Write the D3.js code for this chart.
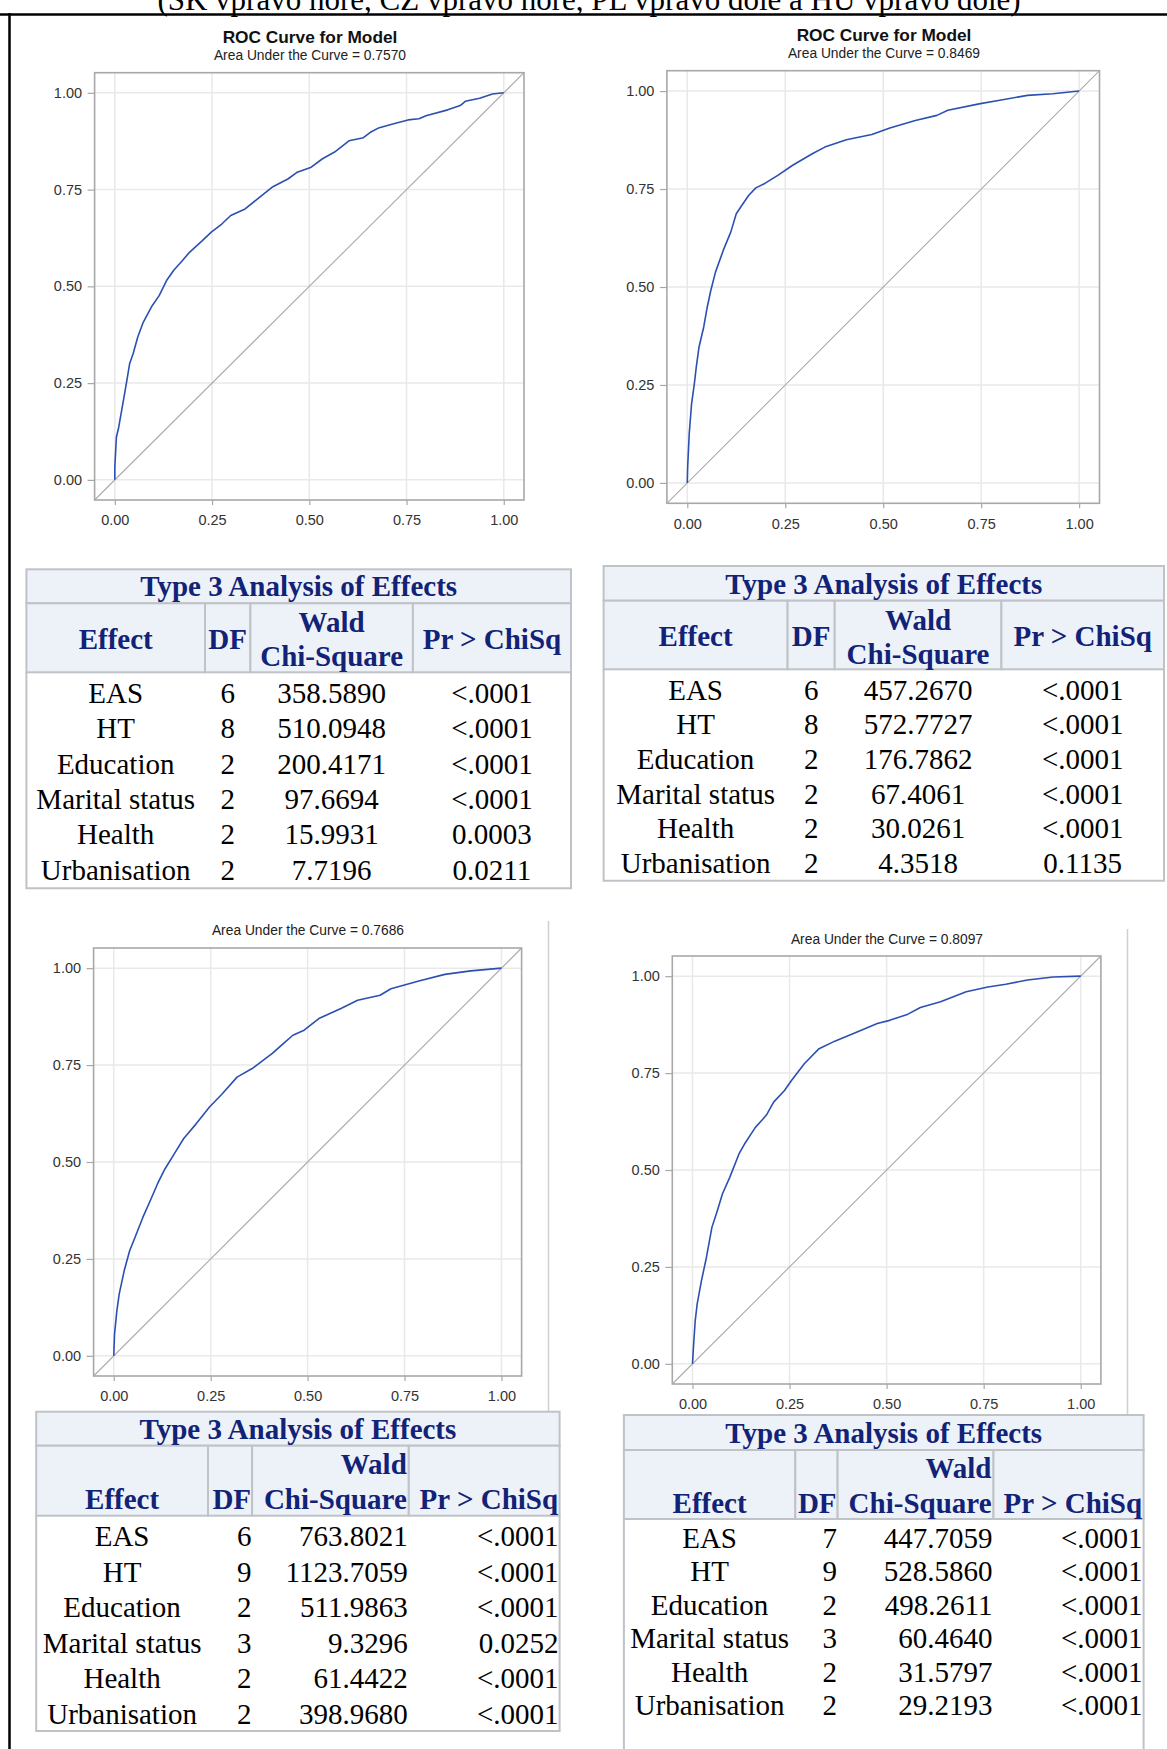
<!DOCTYPE html>
<html><head><meta charset="utf-8">
<script src="https://cdn.jsdelivr.net/npm/d3@7"></script>
<style>body{margin:0;background:#fff}svg{display:block}</style>
</head><body><svg id="c" width="1167" height="1749"></svg>
<script>
// ---------- data ----------
const caption = "(SK vpravo hore, CZ vpravo hore, PL vpravo dole a HU vpravo dole)";
const axisTicks = [0, 0.25, 0.5, 0.75, 1];
const plotTitles = ["ROC Curve for Model", "ROC Curve for Model", null, null];
const aucValues = [0.7570, 0.8469, 0.7686, 0.8097];

const rocSK = [[0,0],[0,0.033],[0.004,0.11],[0.010,0.136],[0.022,0.205],[0.031,0.257],[0.038,0.30],[0.047,0.326],[0.059,0.369],[0.073,0.407],[0.096,0.45],[0.114,0.476],[0.133,0.515],[0.151,0.541],[0.174,0.567],[0.192,0.588],[0.225,0.618],[0.248,0.64],[0.275,0.661],[0.298,0.683],[0.335,0.70],[0.367,0.726],[0.404,0.756],[0.446,0.778],[0.469,0.795],[0.505,0.808],[0.533,0.829],[0.565,0.847],[0.602,0.876],[0.639,0.884],[0.657,0.898],[0.680,0.91],[0.717,0.92],[0.754,0.93],[0.782,0.933],[0.800,0.941],[0.856,0.956],[0.888,0.967],[0.901,0.978],[0.938,0.986],[0.971,0.997],[1,1]];
const rocCZ = [[0,0],[0.001,0.041],[0.005,0.126],[0.011,0.202],[0.018,0.253],[0.023,0.296],[0.030,0.347],[0.042,0.398],[0.051,0.449],[0.060,0.491],[0.072,0.538],[0.092,0.594],[0.111,0.640],[0.125,0.687],[0.139,0.708],[0.157,0.734],[0.175,0.753],[0.199,0.765],[0.231,0.785],[0.268,0.810],[0.319,0.840],[0.351,0.857],[0.406,0.876],[0.471,0.889],[0.517,0.906],[0.582,0.925],[0.637,0.938],[0.665,0.951],[0.748,0.968],[0.794,0.976],[0.868,0.989],[0.933,0.993],[1,1]];
const rocPL = [[0,0],[0.002,0.056],[0.008,0.116],[0.014,0.159],[0.027,0.22],[0.041,0.271],[0.055,0.306],[0.075,0.357],[0.094,0.40],[0.113,0.444],[0.132,0.482],[0.156,0.521],[0.180,0.56],[0.213,0.599],[0.247,0.642],[0.280,0.676],[0.318,0.719],[0.357,0.741],[0.409,0.780],[0.438,0.806],[0.462,0.827],[0.491,0.840],[0.529,0.870],[0.586,0.896],[0.629,0.917],[0.687,0.930],[0.715,0.947],[0.787,0.967],[0.854,0.984],[0.921,0.993],[1,1]];
const rocHU = [[0,0],[0.003,0.051],[0.007,0.111],[0.012,0.154],[0.023,0.214],[0.036,0.275],[0.050,0.352],[0.064,0.395],[0.077,0.438],[0.096,0.481],[0.120,0.542],[0.134,0.567],[0.162,0.610],[0.190,0.641],[0.209,0.675],[0.237,0.705],[0.255,0.731],[0.288,0.774],[0.326,0.813],[0.368,0.833],[0.424,0.856],[0.476,0.878],[0.508,0.886],[0.555,0.902],[0.587,0.919],[0.639,0.934],[0.705,0.960],[0.761,0.972],[0.807,0.979],[0.863,0.990],[0.929,0.998],[1,1]];

const tableTitle = "Type 3 Analysis of Effects";
const headerLabels = ["Effect", "DF", "Wald", "Chi-Square", "Pr > ChiSq"];
const effects = ["EAS", "HT", "Education", "Marital status", "Health", "Urbanisation"];
const dfSK = [6, 8, 2, 2, 2, 2];
const waldSK = [358.5890, 510.0948, 200.4171, 97.6694, 15.9931, 7.7196];
const pSK = ["<.0001", "<.0001", "<.0001", "<.0001", "0.0003", "0.0211"];
const dfCZ = [6, 8, 2, 2, 2, 2];
const waldCZ = [457.2670, 572.7727, 176.7862, 67.4061, 30.0261, 4.3518];
const pCZ = ["<.0001", "<.0001", "<.0001", "<.0001", "<.0001", "0.1135"];
const dfPL = [6, 9, 2, 3, 2, 2];
const waldPL = [763.8021, 1123.7059, 511.9863, 9.3296, 61.4422, 398.9680];
const pPL = ["<.0001", "<.0001", "<.0001", "0.0252", "<.0001", "<.0001"];
const dfHU = [7, 9, 2, 3, 2, 2];
const waldHU = [447.7059, 528.5860, 498.2611, 60.4640, 31.5797, 29.2193];
const pHU = ["<.0001", "<.0001", "<.0001", "<.0001", "<.0001", "<.0001"];

// ---------- drawing ----------
const svg = d3.select("#c");
svg.append("rect").attr("width", 1167).attr("height", 1749).attr("fill", "#fff");
const SANS = "'Liberation Sans', Arial, sans-serif";
const SERIF = "'Liberation Serif', 'Times New Roman', serif";

// caption and frame lines
svg.append("text").attr("x", 589).attr("y", 10).attr("text-anchor", "middle")
  .attr("font-family", SERIF).attr("font-size", 31).attr("fill", "#000").text(caption);
svg.append("line").attr("x1", 0).attr("x2", 1167).attr("y1", 14.5).attr("y2", 14.5)
  .attr("stroke", "#000").attr("stroke-width", 2.5);
svg.append("line").attr("x1", 9.5).attr("x2", 9.5).attr("y1", 13).attr("y2", 1749)
  .attr("stroke", "#000").attr("stroke-width", 2.5);
// faint separators on the right of the lower plots
[[548.5, 921, 1412], [1127.5, 929, 1415]].forEach(([x, y1, y2]) => {
  svg.append("line").attr("x1", x).attr("x2", x).attr("y1", y1).attr("y2", y2)
    .attr("stroke", "#cfcfcf").attr("stroke-width", 1.5);
});

const plotBoxes = [
  {l: 94.6, r: 524, t: 72.7, b: 500, cx: 310, ty: 42.5, sy: 60},
  {l: 666.9, r: 1099.5, t: 70.7, b: 503.3, cx: 884, ty: 40.8, sy: 58.3},
  {l: 93.6, r: 521.6, t: 948, b: 1376, cx: 308, ty: null, sy: 935},
  {l: 672.3, r: 1100.9, t: 956, b: 1384, cx: 887, ty: null, sy: 944}
];
const rocData = [rocSK, rocCZ, rocPL, rocHU];
const fmtTick = d3.format(".2f"), fmt4 = d3.format(".4f");

function drawPlot(box, data, title, auc) {
  const pad = 0.052;
  const g = svg.append("g");
  const x = d3.scaleLinear().domain([-pad, 1 + pad]).range([box.l, box.r]);
  const y = d3.scaleLinear().domain([-pad, 1 + pad]).range([box.b, box.t]);
  g.selectAll("line.gx").data(axisTicks).join("line").attr("class", "gx")
    .attr("x1", d => x(d)).attr("x2", d => x(d)).attr("y1", box.t).attr("y2", box.b)
    .attr("stroke", "#e9e9e9").attr("stroke-width", 1.5);
  g.selectAll("line.gy").data(axisTicks).join("line").attr("class", "gy")
    .attr("y1", d => y(d)).attr("y2", d => y(d)).attr("x1", box.l).attr("x2", box.r)
    .attr("stroke", "#e9e9e9").attr("stroke-width", 1.5);
  g.append("line").attr("x1", x(-pad)).attr("y1", y(-pad)).attr("x2", x(1 + pad)).attr("y2", y(1 + pad))
    .attr("stroke", "#ababab").attr("stroke-width", 1.1);
  g.append("path").datum(data)
    .attr("d", d3.line().x(d => x(d[0])).y(d => y(d[1])))
    .attr("fill", "none").attr("stroke", "#2c50b2").attr("stroke-width", 1.6)
    .attr("stroke-linejoin", "round");
  g.append("rect").attr("x", box.l).attr("y", box.t).attr("width", box.r - box.l).attr("height", box.b - box.t)
    .attr("fill", "none").attr("stroke", "#a8a8a8").attr("stroke-width", 1.6);
  const ax = g.append("g").attr("transform", `translate(${box.l},0)`)
    .call(d3.axisLeft(y).tickValues(axisTicks).tickFormat(fmtTick).tickSize(7).tickPadding(5.5));
  const bx = g.append("g").attr("transform", `translate(0,${box.b})`)
    .call(d3.axisBottom(x).tickValues(axisTicks).tickFormat(fmtTick).tickSize(5).tickPadding(10));
  [ax, bx].forEach(a => {
    a.select(".domain").remove();
    a.selectAll("line").attr("stroke", "#a8a8a8").attr("stroke-width", 1.2);
    a.selectAll("text").attr("font-family", SANS).attr("font-size", 14.5).attr("fill", "#333");
  });
  if (title) {
    g.append("text").attr("x", box.cx).attr("y", box.ty).attr("text-anchor", "middle")
      .attr("font-family", SANS).attr("font-weight", "bold").attr("font-size", 17.3).attr("fill", "#111").text(title);
  }
  g.append("text").attr("x", box.cx).attr("y", box.sy).attr("text-anchor", "middle")
    .attr("font-family", SANS).attr("font-size", 13.8).attr("fill", "#222")
    .text("Area Under the Curve = " + fmt4(auc));
}
plotBoxes.forEach((b, i) => drawPlot(b, rocData[i], plotTitles[i], aucValues[i]));

// ---------- tables ----------
const HDR_BG = "#EDF2F9", BORDER = "#bfc3c7", HDR_TXT = "#112277";
const tableLayouts = [
  {cols: [26.4, 205, 250.4, 412.9, 571], t: 569.3, tb: 603.3, hb: 672.3, b: 888.3, titleCy: 586.7, h1: 622.3, h2: 656.7, hMid: 639, row0: 693.3, pitch: 35.35, mode: "center"},
  {cols: [603.6, 787.6, 834.7, 1001.4, 1164], t: 566, tb: 600.7, hb: 669.3, b: 880.7, titleCy: 584, h1: 620, h2: 654.3, hMid: 636, row0: 690, pitch: 34.7, mode: "center"},
  {cols: [36.2, 208, 252.1, 408.8, 559.6], t: 1411.7, tb: 1445.7, hb: 1515.7, b: 1731, titleCy: 1429.3, h1: 1464, h2: 1499, hMid: 1499, row0: 1536.7, pitch: 35.45, mode: "right"},
  {cols: [623.9, 795.3, 837.6, 993.5, 1143.6], t: 1415, tb: 1450, hb: 1519, b: null, titleCy: 1433.3, h1: 1468.3, h2: 1503.3, hMid: 1503.3, row0: 1538.3, pitch: 33.5, mode: "right"}
];
const tableData = [[dfSK, waldSK, pSK], [dfCZ, waldCZ, pCZ], [dfPL, waldPL, pPL], [dfHU, waldHU, pHU]];
const FS = 29, BL = 9.6;

function drawTable(L, df, wald, p) {
  const g = svg.append("g");
  const c = L.cols, left = c[0], right = c[4];
  g.append("rect").attr("x", left).attr("y", L.t).attr("width", right - left).attr("height", L.tb - L.t)
    .attr("fill", HDR_BG).attr("stroke", BORDER).attr("stroke-width", 2);
  for (let i = 0; i < 4; i++) {
    g.append("rect").attr("x", c[i]).attr("y", L.tb).attr("width", c[i + 1] - c[i]).attr("height", L.hb - L.tb)
      .attr("fill", HDR_BG).attr("stroke", BORDER).attr("stroke-width", 2);
  }
  const bottom = L.b === null ? 1749 : L.b;
  g.append("path").attr("d", L.b === null
      ? `M${left},${L.hb}V${bottom}M${right},${L.hb}V${bottom}`
      : `M${left},${L.hb}V${bottom}H${right}V${L.hb}`)
    .attr("fill", "none").attr("stroke", BORDER).attr("stroke-width", 2);
  const txt = (x, y, s, anchor, bold, color) => g.append("text").attr("x", x).attr("y", y + BL)
    .attr("text-anchor", anchor).attr("font-family", SERIF).attr("font-size", FS)
    .attr("font-weight", bold ? "bold" : "normal").attr("fill", color).text(s);
  txt((left + right) / 2, L.titleCy, tableTitle, "middle", true, HDR_TXT);
  const mid = i => (c[i] + c[i + 1]) / 2;
  if (L.mode === "center") {
    txt(mid(0), L.hMid, headerLabels[0], "middle", true, HDR_TXT);
    txt(mid(1), L.hMid, headerLabels[1], "middle", true, HDR_TXT);
    txt(mid(2), L.h1, headerLabels[2], "middle", true, HDR_TXT);
    txt(mid(2), L.h2, headerLabels[3], "middle", true, HDR_TXT);
    txt(mid(3), L.hMid, headerLabels[4], "middle", true, HDR_TXT);
  } else {
    txt(mid(0), L.hMid, headerLabels[0], "middle", true, HDR_TXT);
    txt(c[2] - 1, L.hMid, headerLabels[1], "end", true, HDR_TXT);
    txt(c[3] - 2, L.h1, headerLabels[2], "end", true, HDR_TXT);
    txt(c[3] - 2, L.h2, headerLabels[3], "end", true, HDR_TXT);
    txt(c[4] - 1.5, L.hMid, headerLabels[4], "end", true, HDR_TXT);
  }
  effects.forEach((e, i) => {
    const cy = L.row0 + i * L.pitch;
    txt(mid(0), cy, e, "middle", false, "#000");
    if (L.mode === "center") {
      txt(mid(1), cy, String(df[i]), "middle", false, "#000");
      txt(mid(2), cy, fmt4(wald[i]), "middle", false, "#000");
      txt(mid(3), cy, p[i], "middle", false, "#000");
    } else {
      txt(c[2] - 0.5, cy, String(df[i]), "end", false, "#000");
      txt(c[3] - 1, cy, fmt4(wald[i]), "end", false, "#000");
      txt(c[4] - 1, cy, p[i], "end", false, "#000");
    }
  });
}
tableLayouts.forEach((L, i) => drawTable(L, ...tableData[i]));
</script></body></html>
